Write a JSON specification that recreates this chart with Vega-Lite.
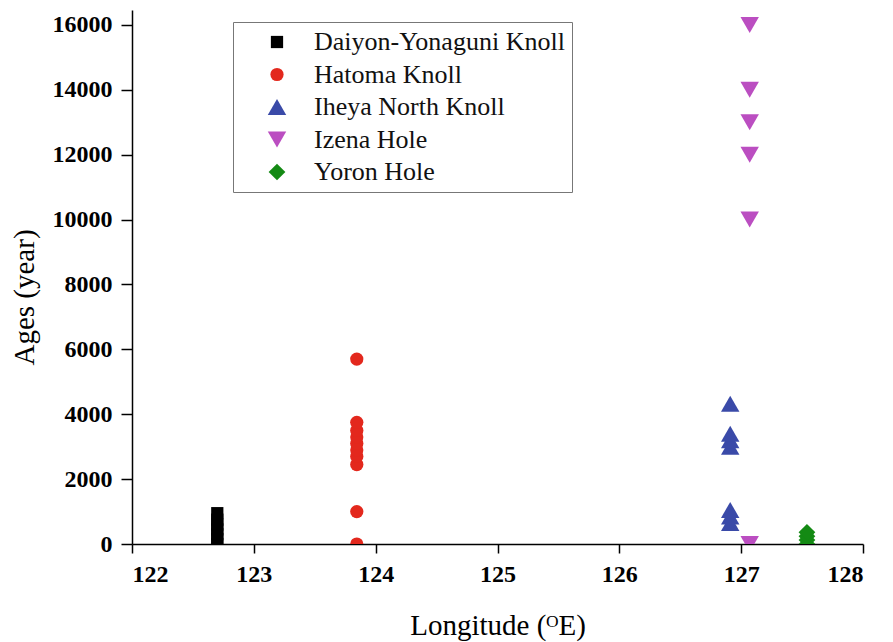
{
  "$schema": "https://vega.github.io/schema/vega-lite/v6.json",
  "width": 731,
  "height": 534,
  "autosize": "none",
  "padding": {"left": 132, "top": 10, "right": 30, "bottom": 98},
  "background": "white",
  "config": {"view": {"stroke": null}, "font": "Times New Roman"},
  "data": {
    "values": [
      {"site": "Daiyon-Yonaguni Knoll", "lon": 122.7, "age": 0},
      {"site": "Daiyon-Yonaguni Knoll", "lon": 122.7, "age": 150},
      {"site": "Daiyon-Yonaguni Knoll", "lon": 122.7, "age": 300},
      {"site": "Daiyon-Yonaguni Knoll", "lon": 122.7, "age": 450},
      {"site": "Daiyon-Yonaguni Knoll", "lon": 122.7, "age": 600},
      {"site": "Daiyon-Yonaguni Knoll", "lon": 122.7, "age": 750},
      {"site": "Daiyon-Yonaguni Knoll", "lon": 122.7, "age": 950},
      {"site": "Hatoma Knoll", "lon": 123.845, "age": 0},
      {"site": "Hatoma Knoll", "lon": 123.845, "age": 1000},
      {"site": "Hatoma Knoll", "lon": 123.845, "age": 2450},
      {"site": "Hatoma Knoll", "lon": 123.845, "age": 2700},
      {"site": "Hatoma Knoll", "lon": 123.845, "age": 2900},
      {"site": "Hatoma Knoll", "lon": 123.845, "age": 3100},
      {"site": "Hatoma Knoll", "lon": 123.845, "age": 3300},
      {"site": "Hatoma Knoll", "lon": 123.845, "age": 3500},
      {"site": "Hatoma Knoll", "lon": 123.845, "age": 3750},
      {"site": "Hatoma Knoll", "lon": 123.845, "age": 5700},
      {"site": "Iheya North Knoll", "lon": 126.91, "age": 650},
      {"site": "Iheya North Knoll", "lon": 126.91, "age": 850},
      {"site": "Iheya North Knoll", "lon": 126.91, "age": 1050},
      {"site": "Iheya North Knoll", "lon": 126.91, "age": 3000},
      {"site": "Iheya North Knoll", "lon": 126.91, "age": 3200},
      {"site": "Iheya North Knoll", "lon": 126.91, "age": 3400},
      {"site": "Iheya North Knoll", "lon": 126.91, "age": 4320},
      {"site": "Izena Hole", "lon": 127.07, "age": 0},
      {"site": "Izena Hole", "lon": 127.07, "age": 10000},
      {"site": "Izena Hole", "lon": 127.07, "age": 12000},
      {"site": "Izena Hole", "lon": 127.07, "age": 13000},
      {"site": "Izena Hole", "lon": 127.07, "age": 14000},
      {"site": "Izena Hole", "lon": 127.07, "age": 16000},
      {"site": "Yoron Hole", "lon": 127.54, "age": 0},
      {"site": "Yoron Hole", "lon": 127.54, "age": 120},
      {"site": "Yoron Hole", "lon": 127.54, "age": 240},
      {"site": "Yoron Hole", "lon": 127.54, "age": 360}
    ]
  },
  "mark": {"type": "point", "filled": true, "clip": true, "opacity": 1},
  "encoding": {
    "x": {
      "field": "lon",
      "type": "quantitative",
      "scale": {"domain": [122, 128], "nice": false, "zero": false},
      "axis": {
        "title": "Longitude (ᴼE)",
        "values": [122, 123, 124, 125, 126, 127, 128],
        "format": "d",
        "grid": false,
        "domainColor": "black",
        "domainWidth": 1.5,
        "tickColor": "black",
        "tickWidth": 1.5,
        "tickSize": 9,
        "labelFont": "Times New Roman",
        "labelFontWeight": "bold",
        "labelFontSize": 24,
        "labelColor": "black",
        "labelPadding": 9,
        "titleFont": "Times New Roman",
        "titleFontSize": 29,
        "titleFontWeight": "normal",
        "titleColor": "black",
        "titlePadding": 25
      }
    },
    "y": {
      "field": "age",
      "type": "quantitative",
      "scale": {"domain": [0, 16460], "nice": false},
      "axis": {
        "title": "Ages (year)",
        "values": [0, 2000, 4000, 6000, 8000, 10000, 12000, 14000, 16000],
        "format": "d",
        "grid": false,
        "domainColor": "black",
        "domainWidth": 1.5,
        "tickColor": "black",
        "tickWidth": 1.5,
        "tickSize": 11,
        "labelFont": "Times New Roman",
        "labelFontWeight": "bold",
        "labelFontSize": 24,
        "labelColor": "black",
        "labelPadding": 9,
        "titleFont": "Times New Roman",
        "titleFontSize": 29,
        "titleFontWeight": "normal",
        "titleColor": "black",
        "titlePadding": 13,
        "titleY": 287
      }
    },
    "color": {
      "field": "site",
      "type": "nominal",
      "scale": {
        "domain": ["Daiyon-Yonaguni Knoll", "Hatoma Knoll", "Iheya North Knoll", "Izena Hole", "Yoron Hole"],
        "range": ["#000000", "#e3281d", "#3a4aa8", "#bb4ec1", "#148a14"]
      },
      "legend": {
        "title": null,
        "orient": "none",
        "legendX": 101,
        "legendY": 12,
        "strokeColor": "#777777",
        "fillColor": "white",
        "padding": 7,
        "labelFont": "Times New Roman",
        "labelFontSize": 26,
        "labelLimit": 500,
        "labelColor": "#111111",
        "rowPadding": 6.5,
        "symbolOffset": 24,
        "labelOffset": 24
      }
    },
    "shape": {
      "field": "site",
      "type": "nominal",
      "scale": {
        "domain": ["Daiyon-Yonaguni Knoll", "Hatoma Knoll", "Iheya North Knoll", "Izena Hole", "Yoron Hole"],
        "range": ["square", "circle", "triangle-up", "triangle-down", "diamond"]
      }
    },
    "size": {
      "field": "site",
      "type": "nominal",
      "scale": {
        "type": "ordinal",
        "domain": ["Daiyon-Yonaguni Knoll", "Hatoma Knoll", "Iheya North Knoll", "Izena Hole", "Yoron Hole"],
        "range": [150, 175, 340, 340, 280]
      }
    }
  }
}
